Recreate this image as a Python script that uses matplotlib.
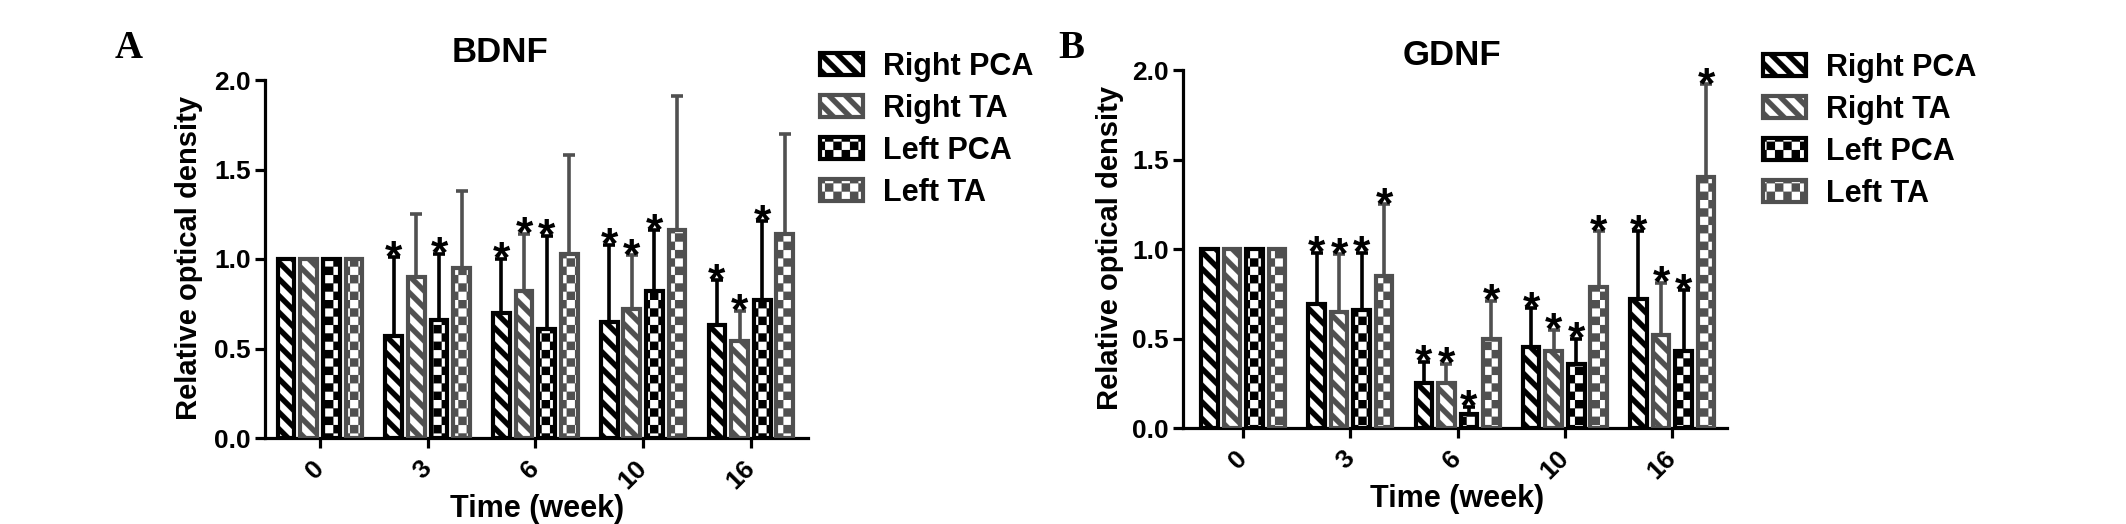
import numpy as np
import matplotlib
matplotlib.use('Agg')
import matplotlib.pyplot as plt
import matplotlib.hatch as mhatch
from matplotlib.path import Path

# ---- data ----
weeks = ['0', '3', '6', '10', '16']
groups = ['Right PCA', 'Right TA', 'Left PCA', 'Left TA']

bdnf_right_pca = [1.0, 0.57, 0.70, 0.65, 0.63]
bdnf_right_ta = [1.0, 0.90, 0.82, 0.72, 0.54]
bdnf_left_pca = [1.0, 0.66, 0.61, 0.82, 0.77]
bdnf_left_ta = [1.0, 0.95, 1.03, 1.16, 1.14]

bdnf_err_right_pca = [0, 0.44, 0.30, 0.43, 0.25]
bdnf_err_right_ta = [0, 0.35, 0.32, 0.30, 0.17]
bdnf_err_left_pca = [0, 0.37, 0.52, 0.34, 0.44]
bdnf_err_left_ta = [0, 0.43, 0.55, 0.75, 0.56]

bdnf_sig_right_pca = [0, 1, 1, 1, 1]
bdnf_sig_right_ta = [0, 0, 1, 1, 1]
bdnf_sig_left_pca = [0, 1, 1, 1, 1]
bdnf_sig_left_ta = [0, 0, 0, 0, 0]

gdnf_right_pca = [1.0, 0.69, 0.25, 0.45, 0.72]
gdnf_right_ta = [1.0, 0.65, 0.25, 0.43, 0.52]
gdnf_left_pca = [1.0, 0.66, 0.08, 0.36, 0.43]
gdnf_left_ta = [1.0, 0.85, 0.50, 0.79, 1.40]

gdnf_err_right_pca = [0, 0.29, 0.12, 0.22, 0.38]
gdnf_err_right_ta = [0, 0.32, 0.11, 0.12, 0.29]
gdnf_err_left_pca = [0, 0.32, 0.04, 0.14, 0.34]
gdnf_err_left_ta = [0, 0.40, 0.21, 0.31, 0.52]

gdnf_sig_right_pca = [0, 1, 1, 1, 1]
gdnf_sig_right_ta = [0, 1, 1, 1, 1]
gdnf_sig_left_pca = [0, 1, 1, 1, 1]
gdnf_sig_left_ta = [0, 1, 1, 1, 1]

colors = ['black', '#505050', 'black', '#505050']
hatches = ['\\', '\\', '+', '+']

SANS = 'Liberation Sans'
plt.rcParams['font.family'] = [SANS, 'DejaVu Sans']
plt.rcParams['hatch.linewidth'] = 0.1


# ---- filled hatch patterns: thick "\" stripes and a checkerboard ----
CLOSED = [Path.MOVETO, Path.LINETO, Path.LINETO, Path.LINETO, Path.CLOSEPOLY]


class StripeHatch(mhatch.HatchPatternBase):
    black_part = 0.45

    def __init__(self, hatch, density):
        self.num_lines = int(hatch.count('\\') * density)
        self.num_vertices = (2 * self.num_lines + 1) * 5 if self.num_lines else 0

    def set_vertices_and_codes(self, vertices, codes):
        n = self.num_lines
        h = 0.5 * self.black_part / n
        parts = []
        for k in range(2 * n + 1):
            c = k / n
            parts.append([(-1, c - h + 1), (2, c - h - 2), (2, c + h - 2),
                          (-1, c + h + 1), (-1, c - h + 1)])
        vertices[:] = np.array(parts, dtype=float).reshape(-1, 2)
        codes[:] = np.tile(CLOSED, 2 * n + 1)


class CheckerHatch(mhatch.HatchPatternBase):
    def __init__(self, hatch, density):
        self.cells = int(hatch.count('+') * density * 2)
        self.num_vertices = (self.cells ** 2 // 2) * 5

    def set_vertices_and_codes(self, vertices, codes):
        m = self.cells
        s = 1.0 / m
        parts = []
        for i in range(m):
            for j in range(m):
                if (i + j) % 2 == 0:
                    x0, y0 = i * s, j * s
                    parts.append([(x0, y0), (x0 + s, y0), (x0 + s, y0 + s),
                                  (x0, y0 + s), (x0, y0)])
        vertices[:] = np.array(parts, dtype=float).reshape(-1, 2)
        codes[:] = np.tile(CLOSED, len(parts))


mhatch._hatch_types[:] = [StripeHatch, CheckerHatch]


def draw_panel(fig, rect, xlim, means, errs, sigs, title, title_xy,
               ylabel_xy, xlabel_xy, letter, letter_xy, legend_xy):
    ax = fig.add_axes(rect)
    x = np.arange(len(weeks))
    pitch = 0.21
    for i, name in enumerate(groups):
        pos = x + (i - 1.5) * pitch
        bars = ax.bar(pos, means[i], width=0.155, color='white',
                      edgecolor=colors[i], hatch=hatches[i], linewidth=3,
                      label=name, zorder=3)
        ax.errorbar(pos, means[i], yerr=[np.zeros(len(weeks)), errs[i]],
                    fmt='none', ecolor=colors[i], elinewidth=2.6,
                    capsize=4, capthick=2.6, zorder=2)
        for rect_, m, e, s in zip(bars, means[i], errs[i], sigs[i]):
            if s:
                ax.annotate('*', (rect_.get_x() + rect_.get_width() / 2, m + e),
                            xytext=(0, -10), textcoords='offset points',
                            ha='center', va='baseline', fontsize=32,
                            fontweight='bold')

    ax.set_xlim(*xlim)
    ax.set_ylim(0, 2.0)
    ax.set_yticks([0, 0.5, 1.0, 1.5, 2.0])
    ax.set_yticklabels(['%.1f' % v for v in [0, 0.5, 1.0, 1.5, 2.0]],
                       fontsize=19, fontweight='bold')
    ax.set_xticks(x)
    ax.set_xticklabels(weeks, fontsize=19, fontweight='bold', rotation=45,
                       ha='right', va='center', rotation_mode='anchor')
    for side in ['top', 'right']:
        ax.spines[side].set_visible(False)
    for side in ['left', 'bottom']:
        ax.spines[side].set_linewidth(2.3)
    ax.tick_params(axis='y', length=7, width=2.3, pad=3)
    ax.tick_params(axis='x', length=7, width=2.3, pad=12)
    ax.set_facecolor('none')

    fig.text(*title_xy, title, ha='center', va='baseline', fontsize=25,
             fontweight='bold')
    fig.text(*ylabel_xy, 'Relative optical density', rotation=90,
             ha='center', va='center', fontsize=21, fontweight='bold')
    fig.text(*xlabel_xy, 'Time (week)', ha='center', va='baseline',
             fontsize=22, fontweight='bold')
    fig.text(*letter_xy, letter, ha='left', va='baseline', fontsize=28,
             fontweight='bold', family='Liberation Serif')

    ax.legend(loc='upper left', bbox_to_anchor=legend_xy,
              bbox_transform=fig.transFigure, frameon=False, borderpad=0,
              borderaxespad=0, handlelength=1.4, handleheight=0.72,
              handletextpad=0.65, labelspacing=0.39,
              prop={'family': SANS, 'weight': 'bold', 'size': 22})
    return ax


W, H = 2126, 524
fig = plt.figure(figsize=(W / 100, H / 100), dpi=100)

draw_panel(fig, [265 / W, 1 - 438 / H, 543 / W, 358 / H], (-0.51, 4.53),
           [bdnf_right_pca, bdnf_right_ta, bdnf_left_pca, bdnf_left_ta],
           [bdnf_err_right_pca, bdnf_err_right_ta, bdnf_err_left_pca, bdnf_err_left_ta],
           [bdnf_sig_right_pca, bdnf_sig_right_ta, bdnf_sig_left_pca, bdnf_sig_left_ta],
           'BDNF', (500 / W, 1 - 62 / H), (189 / W, 1 - 258 / H),
           (537 / W, 1 - 517 / H), 'A', (115 / W, 1 - 58 / H),
           (820 / W, 1 - 52 / H))

draw_panel(fig, [1183 / W, 1 - 428 / H, 544 / W, 358 / H], (-0.56, 4.51),
           [gdnf_right_pca, gdnf_right_ta, gdnf_left_pca, gdnf_left_ta],
           [gdnf_err_right_pca, gdnf_err_right_ta, gdnf_err_left_pca, gdnf_err_left_ta],
           [gdnf_sig_right_pca, gdnf_sig_right_ta, gdnf_sig_left_pca, gdnf_sig_left_ta],
           'GDNF', (1452 / W, 1 - 65 / H), (1110 / W, 1 - 248 / H),
           (1457 / W, 1 - 507 / H), 'B', (1058 / W, 1 - 58 / H),
           (1763 / W, 1 - 53 / H))

fig.savefig('out.png', dpi=100, facecolor='white')
